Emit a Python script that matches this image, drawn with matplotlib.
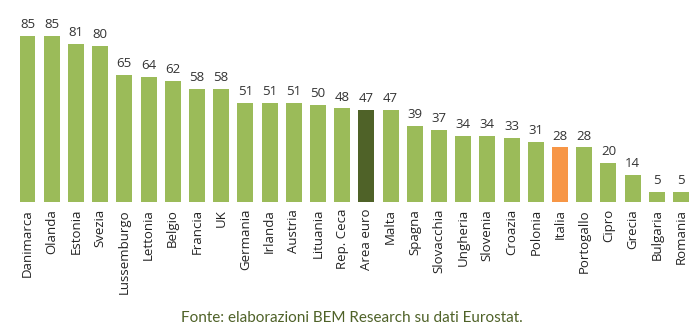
import matplotlib
matplotlib.use("Agg")
import matplotlib.pyplot as plt

countries = ["Danimarca", "Olanda", "Estonia", "Svezia", "Lussemburgo", "Lettonia",
             "Belgio", "Francia", "UK", "Germania", "Irlanda", "Austria", "Lituania",
             "Rep. Ceca", "Area euro", "Malta", "Spagna", "Slovacchia", "Ungheria",
             "Slovenia", "Croazia", "Polonia", "Italia", "Portogallo", "Cipro",
             "Grecia", "Bulgaria", "Romania"]
values = [85, 85, 81, 80, 65, 64, 62, 58, 58, 51, 51, 51, 50, 48, 47, 47,
          39, 37, 34, 34, 33, 31, 28, 28, 20, 14, 5, 5]

green = "#9bbb59"
colors = [green] * len(countries)
colors[countries.index("Area euro")] = "#4f6228"
colors[countries.index("Italia")] = "#f79646"

plt.rcParams["font.family"] = ["Open Sans", "DejaVu Sans"]

fig = plt.figure(figsize=(7, 3.35), dpi=100)
ax = fig.add_axes([15.4 / 700, 133 / 335, 677.7 / 700, 202 / 335])

x = range(len(countries))
ax.bar(x, values, width=0.66, color=colors)
for xi, v in zip(x, values):
    ax.text(xi, v + 2.5, str(v), ha="center", va="bottom", fontsize=9.5, color="#333333")

ax.set_xlim(-0.5, len(countries) - 0.5)
ax.set_ylim(0, 103.6)
ax.set_xticks(list(x))
ax.set_xticklabels(countries, rotation=90, fontsize=9.5, color="#222222")
ax.tick_params(axis="x", length=0, pad=5)
ax.set_yticks([])
for s in ax.spines.values():
    s.set_visible(False)

fig.text(352 / 700, 1 - 318 / 335, "Fonte: elaborazioni BEM Research su dati Eurostat.",
         ha="center", va="center", fontsize=11, color="#4f6228", family=["Lato", "DejaVu Sans"])

fig.savefig("out.png", dpi=100)
